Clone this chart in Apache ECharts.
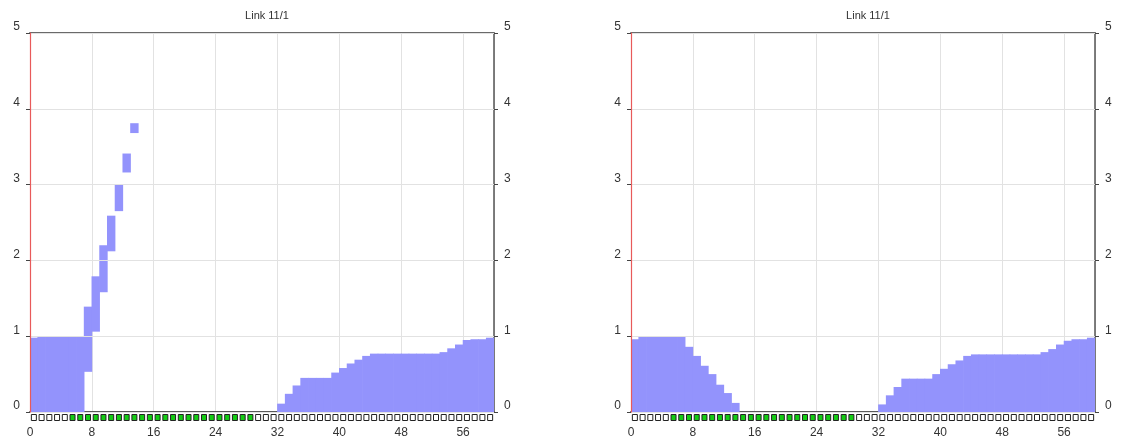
<!DOCTYPE html>
<html><head><meta charset="utf-8">
<script src="https://cdn.jsdelivr.net/npm/echarts@6/dist/echarts.min.js"></script>
<style>html,body{margin:0;padding:0;background:#fff}#c{width:1122px;height:439px}</style>
</head><body><div id="c"></div>
<script>
const titles = ['Link 11/1', 'Link 11/1'];
const categories = ['0','1','2','3','4','5','6','7','8','9','10','11','12','13','14','15','16','17','18','19',
  '20','21','22','23','24','25','26','27','28','29','30','31','32','33','34','35','36','37','38','39',
  '40','41','42','43','44','45','46','47','48','49','50','51','52','53','54','55','56','57','58','59'];
const xTicks = [0, 8, 16, 24, 32, 40, 48, 56];
const yTicks = [0, 1, 2, 3, 4, 5];

const leftLow = [0,0,0,0,0,0,0,0.53,1.06,1.58,2.12,2.65,3.16,3.68,
  0,0,0,0,0,0,0,0,0,0,0,0,0,0,0,0,0,0,
  0,0,0,0,0,0,0,0,0,0,0,0,0,0,0,0,0,0,0,0,0,0,0,0,0,0,0,0];
const leftHigh = [0.98,1,1,1,1,1,1,1.39,1.79,2.2,2.59,3.0,3.41,3.81,
  0,0,0,0,0,0,0,0,0,0,0,0,0,0,0,0,0,0,
  0.11,0.24,0.35,0.45,0.45,0.45,0.45,0.52,0.58,0.64,0.69,0.74,
  0.77,0.77,0.77,0.77,0.77,0.77,0.77,0.77,0.77,0.79,0.84,0.89,0.95,0.96,0.96,0.98];
const rightLow = [0,0,0,0,0,0,0,0,0,0,0,0,0,0,
  0,0,0,0,0,0,0,0,0,0,0,0,0,0,0,0,0,0,
  0,0,0,0,0,0,0,0,0,0,0,0,0,0,0,0,0,0,0,0,0,0,0,0,0,0,0,0];
const rightHigh = [0.96,1,1,1,1,1,1,0.86,0.74,0.61,0.50,0.36,0.25,0.12,
  0,0,0,0,0,0,0,0,0,0,0,0,0,0,0,0,0,0,
  0.10,0.22,0.33,0.44,0.44,0.44,0.44,0.50,0.57,0.63,0.68,0.74,
  0.76,0.76,0.76,0.76,0.76,0.76,0.76,0.76,0.76,0.79,0.83,0.89,0.94,0.96,0.96,0.98];
const leftStatus = [0,0,0,0,0,1,1,1,1,1,1,1,1,1,1,1,1,1,1,1,1,1,1,1,1,1,1,1,1,
  0,0,0,0,0,0,0,0,0,0,0,0,0,0,0,0,0,0,0,0,0,0,0,0,0,0,0,0,0,0,0];
const rightStatus = [0,0,0,0,0,1,1,1,1,1,1,1,1,1,1,1,1,1,1,1,1,1,1,1,1,1,1,1,1,
  0,0,0,0,0,0,0,0,0,0,0,0,0,0,0,0,0,0,0,0,0,0,0,0,0,0,0,0,0,0,0];

const panels = [
  {left: 30, low: leftLow, high: leftHigh, status: leftStatus, title: titles[0]},
  {left: 631, low: rightLow, high: rightHigh, status: rightStatus, title: titles[1]}
];
const W = 464, TOP = 33, H = 379;
const FONT = 'Liberation Sans, Arial, sans-serif';
const BAR = '#9393fc', GREEN = '#14cc14';

const grid = [], xAxis = [], yAxis = [], series = [], title = [];
panels.forEach((p, k) => {
  const g = k * 2;
  grid.push({left: p.left, top: TOP, width: W, height: H});
  grid.push({left: p.left, top: 414, width: W, height: 7});
  title.push({text: p.title, left: p.left + W / 2, top: 5, textAlign: 'center',
    textStyle: {fontSize: 11, fontWeight: 'normal', color: '#333', fontFamily: FONT}});
  const xb = xAxis.length;
  xAxis.push({type: 'category', gridIndex: g, data: categories, show: false, boundaryGap: true});
  xAxis.push({type: 'value', gridIndex: g, min: 0, max: 60, interval: 8, position: 'bottom', z: 1,
    axisLine: {show: true, onZero: false, lineStyle: {color: '#5a5a5a', width: 2}},
    axisTick: {show: false},
    splitLine: {show: true, lineStyle: {color: '#e2e2e2', width: 1}},
    axisLabel: {margin: 15, color: '#333', fontSize: 12, fontFamily: FONT, showMaxLabel: false,
      formatter: v => xTicks.indexOf(v) >= 0 ? String(v) : ''}});
  xAxis.push({type: 'value', gridIndex: g, min: 0, max: 60, position: 'top', z: 1,
    axisLine: {show: true, onZero: false, lineStyle: {color: '#6a6a6a', width: 2}},
    axisTick: {show: false}, axisLabel: {show: false}, splitLine: {show: false}});
  xAxis.push({type: 'category', gridIndex: g + 1, data: categories, show: false, boundaryGap: true});
  const yb = yAxis.length;
  const yCommon = {type: 'value', gridIndex: g, min: 0, max: 5, interval: 1,
    axisTick: {show: true, length: 4, lineStyle: {color: '#444'}},
    axisLabel: {margin: 10, color: '#333', fontSize: 12, fontFamily: FONT, verticalAlign: 'bottom',
      formatter: v => yTicks.indexOf(v) >= 0 ? String(v) : ''}};
  yAxis.push(Object.assign({}, yCommon, {position: 'left', z: 20 + k,
    axisLine: {show: true, onZero: false, lineStyle: {color: '#e85a5a', width: 1.2}},
    splitLine: {show: true, lineStyle: {color: '#e2e2e2'}}}));
  yAxis.push(Object.assign({}, yCommon, {position: 'right', z: 1,
    axisLine: {show: true, onZero: false, lineStyle: {color: '#555', width: 1.5}},
    splitLine: {show: false}}));
  yAxis.push({type: 'value', gridIndex: g + 1, min: 0, max: 1, show: false});

  series.push({type: 'bar', xAxisIndex: xb, yAxisIndex: yb, stack: 's' + k, silent: true,
    data: p.low, itemStyle: {color: 'rgba(0,0,0,0)'}, barWidth: 8.4});
  series.push({type: 'bar', xAxisIndex: xb, yAxisIndex: yb, stack: 's' + k, silent: true,
    data: p.high.map((h, i) => +(h - p.low[i]).toFixed(3)),
    itemStyle: {color: BAR}, barWidth: 8.4});
  series.push({type: 'bar', xAxisIndex: xb + 3, yAxisIndex: yb + 2, silent: true, barWidth: 6,
    data: p.status.map(s => ({value: 1, itemStyle: {color: s ? GREEN : '#ffffff'}})),
    itemStyle: {borderColor: '#222', borderWidth: 1}});
});

const chart = echarts.init(document.getElementById('c'), null, {renderer: 'canvas'});
chart.setOption({animation: false, title, grid, xAxis, yAxis, series});
</script></body></html>
